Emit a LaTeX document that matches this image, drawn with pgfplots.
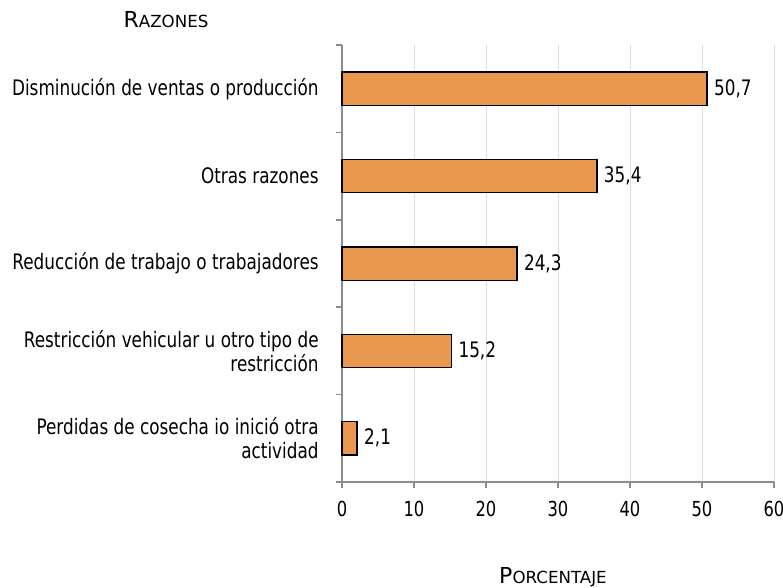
\documentclass[border=0pt]{standalone}
\usepackage{pgfplots}
\pgfplotsset{compat=1.18}
\usepackage{fontspec}
\setmainfont{DejaVu Sans}[FakeStretch=0.79]
\newfontfamily\widefont{DejaVu Sans}
\definecolor{barfill}{HTML}{E9994F}
\definecolor{axgray}{HTML}{8C8C8C}
\definecolor{gridgray}{HTML}{DDDDDD}
\newcommand\sclabel[2]{{\widefont\fontsize{16.5}{18}\selectfont #1\fontsize{12.5}{13}\selectfont #2}}
\begin{document}
\begin{tikzpicture}
\begin{axis}[
  scale only axis, width=324pt, height=327.75pt,
  xmin=0, xmax=60, ymin=-0.5, ymax=4.5,
  xtick={0,10,...,60},
  ytick={-0.5,0.5,...,4.5}, yticklabels={},
  extra y ticks={0,1,2,3,4},
  extra y tick labels={{Perdidas de cosecha io inició otra\\actividad},
    {Restricción vehicular u otro tipo de\\restricción},
    Reducción de trabajo o trabajadores,
    Otras razones,
    Disminución de ventas o producción},
  extra y tick style={major tick length=0pt, yticklabel style={xshift=-14pt}},
  axis x line*=bottom, axis y line*=left,
  axis line style={axgray, line width=1.1pt, -},
  every tick/.style={axgray, line width=1.1pt},
  major tick length=4.5pt,
  tick align=outside,
  xmajorgrids, grid style={gridgray, line width=0.6pt},
  /pgf/number format/assume math mode=true,
  xticklabel style={font=\fontsize{15.5}{17}\selectfont, yshift=-6pt},
  yticklabel style={align=right, font=\fontsize{16}{18}\selectfont},
  clip=false,
]
\addplot[xbar, bar width=25pt, fill=barfill, draw=black, line width=1pt,
  nodes near coords, nodes near coords align={horizontal},
  every node near coord/.append style={black, font=\fontsize{16}{18}\selectfont, xshift=1.5pt},
  /pgf/number format/.cd, fixed, fixed zerofill, precision=1, use comma, assume math mode=true]
  coordinates {(2.1,0) (15.2,1) (24.3,2) (35.4,3) (50.7,4)};
\coordinate (o) at (rel axis cs:0,0);
\end{axis}
\node at ([shift={(-132pt,346.5pt)}]o) {\sclabel{R}{AZONES}};
\node at ([shift={(158.25pt,-71.25pt)}]o) {\sclabel{P}{ORCENTAJE}};
\pgfresetboundingbox
\path[use as bounding box] ([shift={(-256.5pt,-78.75pt)}]o) rectangle ([shift={(330.75pt,361.5pt)}]o);
\end{tikzpicture}
\end{document}
